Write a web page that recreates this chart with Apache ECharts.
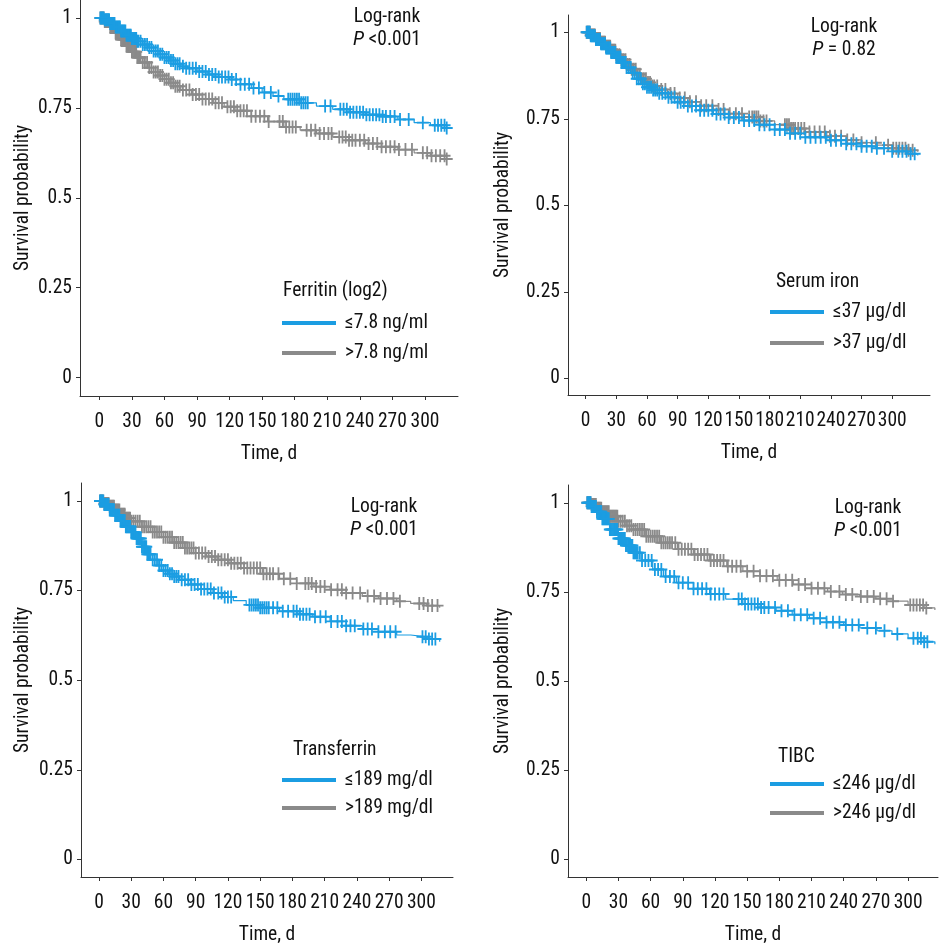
<!DOCTYPE html>
<html>
<head>
<meta charset="utf-8">
<script src="https://cdn.jsdelivr.net/npm/echarts@6/dist/echarts.min.js"></script>
<style>html,body{margin:0;padding:0;background:#fff}#c{width:951px;height:946px}</style>
</head>
<body>
<div id="c"></div>
<script>
// ---------- data ----------
const xTicks = [0, 30, 60, 90, 120, 150, 180, 210, 240, 270, 300];
const yTicks = [0, 0.25, 0.5, 0.75, 1];

// Ferritin (log2)
const ferLowKM = [[0,1],[5,0.995],[10,0.985],[15,0.975],[20,0.964],[25,0.952],[30,0.943],[35,0.935],[40,0.926],[45,0.918],[50,0.908],[55,0.899],[60,0.89],[65,0.882],[70,0.873],[75,0.866],[80,0.86],[90,0.851],[100,0.843],[110,0.836],[120,0.829],[130,0.816],[140,0.805],[150,0.793],[160,0.783],[170,0.774],[185,0.764],[200,0.755],[215,0.746],[230,0.738],[245,0.731],[260,0.726],[275,0.718],[290,0.709],[305,0.702],[320,0.694]];
const ferHighKM = [[0,1],[5,0.99],[10,0.975],[15,0.958],[20,0.94],[25,0.922],[30,0.906],[35,0.89],[40,0.876],[45,0.862],[50,0.85],[55,0.84],[60,0.83],[65,0.82],[70,0.81],[75,0.8],[85,0.787],[95,0.775],[105,0.764],[115,0.753],[125,0.742],[140,0.727],[155,0.712],[170,0.697],[185,0.688],[200,0.679],[215,0.669],[230,0.66],[245,0.651],[260,0.642],[275,0.634],[290,0.625],[305,0.617],[320,0.608]];
const ferLowCens = [1,2,3,4,5,6,7,8,9,10,11,12,13,14,15,16,17,18,19,20,21,22,23,24,25,26,27,28,29,30,31,32,33,34,35,36,38,40,42,44,46,48,50,52,54,56,58,60,62,64,66,68,70,72,74,77,80,83,86,89,92,95,98,101,104,107,110,113,116,119,122,126,130,134,138,142,147,152,158,165,174,176,178,180,182,184,186,188,190,192,208,213,222,225,228,231,234,237,240,243,246,249,252,255,258,261,264,268,272,277,285,298,309,312,315,318,320];
const ferHighCens = [1,2,3,4,5,6,7,8,9,10,11,12,13,14,15,16,17,18,19,20,21,22,23,24,25,26,27,28,29,30,31,32,33,34,35,36,37,38,40,42,44,46,48,50,52,54,56,58,60,62,64,66,68,70,72,74,77,80,83,86,89,92,95,98,101,104,107,110,113,118,121,124,127,130,133,136,140,144,148,152,156,166,169,172,175,178,181,191,195,199,203,207,211,214,221,224,227,230,233,236,240,244,248,252,256,260,264,268,272,276,282,288,298,302,306,310,314,318,320];

// Serum iron
const ironLowKM = [[0,1],[5,0.99],[10,0.979],[15,0.967],[20,0.955],[25,0.942],[30,0.928],[35,0.913],[40,0.898],[45,0.883],[50,0.866],[55,0.851],[60,0.841],[65,0.833],[72,0.824],[80,0.812],[90,0.798],[100,0.787],[112,0.775],[125,0.764],[140,0.754],[155,0.745],[170,0.733],[185,0.719],[197,0.708],[215,0.697],[236,0.688],[255,0.678],[270,0.671],[285,0.665],[300,0.656],[315,0.649],[325,0.644]];
const ironHighKM = [[0,1],[5,0.992],[10,0.982],[15,0.971],[20,0.96],[25,0.948],[30,0.935],[35,0.921],[40,0.907],[45,0.893],[50,0.879],[55,0.866],[60,0.855],[65,0.845],[72,0.835],[80,0.823],[90,0.81],[100,0.799],[112,0.788],[125,0.777],[140,0.765],[155,0.755],[170,0.744],[185,0.733],[200,0.722],[215,0.712],[236,0.7],[255,0.689],[270,0.681],[285,0.674],[300,0.665],[315,0.659],[325,0.655]];
const ironLowCens = [1,2,3,4,5,6,7,8,9,10,11,12,13,14,15,16,17,18,19,20,21,22,23,24,25,26,27,28,29,30,31,32,33,34,35,36,37,38,39,40,42,44,46,48,50,52,54,56,58,60,62,64,66,68,70,72,75,78,81,84,87,90,93,96,100,104,108,112,116,120,124,128,132,136,140,145,150,155,160,165,170,175,180,185,190,195,200,205,210,215,220,225,230,235,240,245,250,255,260,265,270,275,280,285,292,300,306,310,314,318,322];
const ironHighCens = [1,2,3,4,5,6,7,8,9,10,11,12,13,14,15,16,17,18,19,20,21,22,23,24,25,26,27,28,29,30,31,33,35,37,39,41,43,45,47,49,51,53,55,57,59,61,63,65,67,70,74,78,83,87,92,97,102,108,113,118,124,130,135,141,147,153,160,163,165,167,169,171,174,177,195,197,199,201,203,205,208,211,214,219,224,229,234,239,244,250,256,262,270,284,296,301,304,307,310,313,316,320];

// Transferrin
const trfLowKM = [[0,1],[5,0.99],[10,0.975],[15,0.96],[20,0.944],[25,0.928],[30,0.913],[35,0.895],[40,0.872],[45,0.851],[50,0.836],[55,0.82],[60,0.806],[65,0.797],[70,0.789],[75,0.78],[85,0.767],[95,0.754],[106,0.743],[115,0.732],[125,0.722],[137,0.71],[150,0.702],[168,0.692],[185,0.684],[199,0.677],[215,0.664],[230,0.652],[245,0.643],[260,0.635],[277,0.626],[290,0.621],[305,0.615],[317,0.607]];
const trfHighKM = [[0,1],[5,0.993],[10,0.985],[15,0.975],[20,0.963],[25,0.952],[30,0.943],[40,0.928],[50,0.913],[60,0.899],[70,0.884],[80,0.869],[90,0.855],[100,0.845],[110,0.836],[121,0.826],[135,0.813],[152,0.797],[168,0.783],[184,0.77],[200,0.761],[215,0.752],[230,0.743],[245,0.735],[260,0.728],[277,0.72],[290,0.714],[305,0.708],[317,0.702]];
const trfLowCens = [1,2,3,4,5,6,7,8,9,10,11,12,13,14,15,16,17,18,19,20,21,22,23,24,25,26,27,28,29,30,31,32,33,34,35,36,37,38,39,40,41,42,43,44,45,46,47,48,50,52,54,56,58,60,62,64,66,68,70,72,74,77,80,83,86,89,92,95,98,101,104,107,111,114,117,120,123,140,142,144,146,148,150,152,154,156,158,162,166,171,176,181,184,187,190,193,196,201,206,211,216,222,226,230,234,238,246,250,254,260,266,271,276,301,304,307,310,313];
const trfHighCens = [1,2,3,4,5,6,7,8,9,10,11,12,13,14,15,16,17,18,19,20,21,22,23,24,25,26,27,28,29,30,32,34,36,38,40,42,44,46,48,50,52,54,56,58,60,62,64,66,68,70,72,74,76,78,80,82,84,86,88,90,93,96,99,102,105,108,111,114,117,120,123,126,129,132,135,138,141,144,147,150,153,156,159,162,167,172,178,184,192,195,198,202,206,210,216,222,226,230,236,243,250,256,262,268,274,280,298,302,306,310,315];

// TIBC
const tibcLowKM = [[0,1],[5,0.99],[10,0.975],[15,0.955],[22,0.925],[30,0.9],[37,0.88],[44,0.86],[52,0.838],[62,0.813],[72,0.793],[84,0.776],[100,0.759],[115,0.744],[130,0.73],[146,0.716],[162,0.706],[177,0.697],[192,0.686],[208,0.676],[224,0.665],[240,0.657],[255,0.649],[271,0.641],[285,0.632],[300,0.62],[315,0.61],[325,0.603]];
const tibcHighKM = [[0,1],[5,0.995],[10,0.985],[15,0.975],[22,0.962],[30,0.948],[37,0.936],[44,0.925],[55,0.906],[69,0.888],[85,0.87],[100,0.855],[115,0.838],[131,0.822],[146,0.808],[162,0.795],[178,0.783],[193,0.771],[210,0.76],[225,0.751],[239,0.743],[255,0.737],[270,0.731],[286,0.724],[300,0.713],[315,0.705],[325,0.699]];
const tibcLowCens = [1,2,3,4,5,6,7,8,9,10,11,12,13,14,15,16,17,18,19,20,21,22,23,24,25,26,27,28,29,30,31,32,33,34,35,36,37,38,39,40,41,42,43,44,45,46,47,48,50,52,55,58,61,64,67,70,74,78,82,86,90,95,100,104,108,112,116,120,124,128,142,145,148,151,154,157,160,163,166,170,176,182,188,194,200,206,212,218,224,230,236,242,248,254,262,270,278,290,305,309,312,315,318];
const tibcHighCens = [1,2,3,4,5,6,7,8,9,10,11,12,13,14,15,16,17,18,19,20,21,22,23,24,25,26,27,28,29,30,32,34,36,38,40,42,44,46,48,50,52,54,56,58,60,62,64,66,68,70,72,74,76,78,80,83,86,89,92,95,98,101,104,107,110,113,116,119,122,125,128,132,136,140,144,150,156,162,168,174,180,186,192,198,204,210,216,222,228,236,242,248,256,262,268,274,280,286,302,305,308,311,314,317];

const groupNames = [
  ['≤7.8 ng/ml', '>7.8 ng/ml'],
  ['≤37 μg/dl', '>37 μg/dl'],
  ['≤189 mg/dl', '>189 mg/dl'],
  ['≤246 μg/dl', '>246 μg/dl']
];
const legendTitles = ['Ferritin (log2)', 'Serum iron', 'Transferrin', 'TIBC'];
const pTexts = ['<0.001', '= 0.82', '<0.001', '<0.001'];

// ---------- layout / style ----------
const FONT = "'Roboto Condensed', Roboto, sans-serif";
const FS = 19.5;
const BLUE = '#1b9de2', GRAY = '#8a8a8a';
const PLUS = 'path://M4.25,0 H5.75 V4.25 H10 V5.75 H5.75 V10 H4.25 V5.75 H0 V4.25 H4.25 Z';

const panels = [
  {grid:{left:80, top:0, width:378, height:396}, x:[-17.8,330.4], y:[-0.051,1.05], nameGap:47,
   km:[ferLowKM, ferHighKM], cens:[ferLowCens, ferHighCens],
   legend:{left:277, top:308, gap:10}, lt:{x:283, y:291}, ann:{x:387, y:17}},
  {grid:{left:568, top:15, width:362, height:380}, x:[-17.3,337], y:[-0.048,1.05], nameGap:55,
   km:[ironLowKM, ironHighKM], cens:[ironLowCens, ironHighCens],
   legend:{left:765, top:297, gap:11}, lt:{x:776, y:282}, ann:{x:844, y:27}},
  {grid:{left:81, top:483, width:372, height:395}, x:[-16.7,329.4], y:[-0.049,1.05], nameGap:48,
   km:[trfLowKM, trfHighKM], cens:[trfLowCens, trfHighCens],
   legend:{left:277, top:765, gap:8}, lt:{x:293, y:750}, ann:{x:384, y:507}},
  {grid:{left:568, top:485, width:370, height:395}, x:[-17,327.9], y:[-0.05,1.05], nameGap:55,
   km:[tibcLowKM, tibcHighKM], cens:[tibcLowCens, tibcHighCens],
   legend:{left:765, top:769, gap:9}, lt:{x:778, y:757}, ann:{x:868, y:508}}
];

function survAt(km, t) {
  let s = km[0][1];
  for (const p of km) { if (p[0] <= t) s = p[1]; else break; }
  return s;
}

const grid = [], xAxis = [], yAxis = [], series = [], legend = [], graphic = [];
const axisLineStyle = {color:'#333', width:1};
const txt = {fontFamily:FONT, fontSize:FS, color:'#111'};
panels.forEach((p, i) => {
  grid.push(p.grid);
  xAxis.push({
    type:'value', gridIndex:i, min:p.x[0], max:p.x[1],
    name:'Time, d', nameLocation:'middle', nameGap:48,
    nameTextStyle:txt,
    axisLine:{show:true, onZero:false, lineStyle:axisLineStyle},
    axisTick:{show:true, length:4, customValues:xTicks, lineStyle:axisLineStyle},
    axisLabel:Object.assign({customValues:xTicks, margin:16, showMaxLabel:true, showMinLabel:true, hideOverlap:false}, txt),
    splitLine:{show:false}
  });
  yAxis.push({
    type:'value', gridIndex:i, min:p.y[0], max:p.y[1],
    name:'Survival probability', nameLocation:'middle', nameGap:p.nameGap,
    nameTextStyle:txt,
    axisLine:{show:true, onZero:false, lineStyle:axisLineStyle},
    axisTick:{show:true, length:4, customValues:yTicks, lineStyle:axisLineStyle},
    axisLabel:Object.assign({customValues:yTicks, margin:8, showMaxLabel:true, showMinLabel:true}, txt),
    splitLine:{show:false}
  });
  const colors = [BLUE, GRAY];
  [1, 0].forEach(g => {
    const nm = groupNames[i][g];
    series.push({
      type:'line', name:nm, xAxisIndex:i, yAxisIndex:i, step:'end',
      data:p.km[g], showSymbol:false, symbol:'none',
      lineStyle:{color:colors[g], width:1.2}, itemStyle:{color:colors[g]},
      silent:true, animation:false, z:2
    });
    series.push({
      type:'scatter', name:nm, xAxisIndex:i, yAxisIndex:i,
      data:p.cens[g].map(t => [t, survAt(p.km[g], t)]),
      symbol:PLUS, symbolSize:[12,13],
      itemStyle:{color:colors[g], opacity:1}, silent:true, animation:false, z:3
    });
  });
  legend.push({
    data:groupNames[i], orient:'vertical', left:p.legend.left, top:p.legend.top,
    itemWidth:54, itemHeight:4, itemGap:p.legend.gap, icon:'rect', selectedMode:false,
    textStyle:Object.assign({lineHeight:20, padding:[0,0,0,4]}, txt)
  });
  const font = FS + 'px ' + FONT;
  graphic.push({
    type:'text', x:p.lt.x, y:p.lt.y,
    style:{text:legendTitles[i], font:font, fill:'#111', align:'left', verticalAlign:'middle'}
  });
  graphic.push({
    type:'text', x:p.ann.x, y:p.ann.y,
    style:{text:'Log-rank', font:font, fill:'#111', align:'center', verticalAlign:'middle'}
  });
  graphic.push({
    type:'text', x:p.ann.x, y:p.ann.y + 23,
    style:{text:'{i|P} ' + pTexts[i], font:font, fill:'#111', align:'center', verticalAlign:'middle',
      rich:{i:{fontStyle:'italic', fontSize:FS + 1, fontFamily:FONT, fill:'#111'}}}
  });
});

const chart = echarts.init(document.getElementById('c'), null, {renderer:'canvas'});
chart.setOption({animation:false, backgroundColor:'#fff', grid, xAxis, yAxis, series, legend, graphic});
</script>
</body>
</html>
